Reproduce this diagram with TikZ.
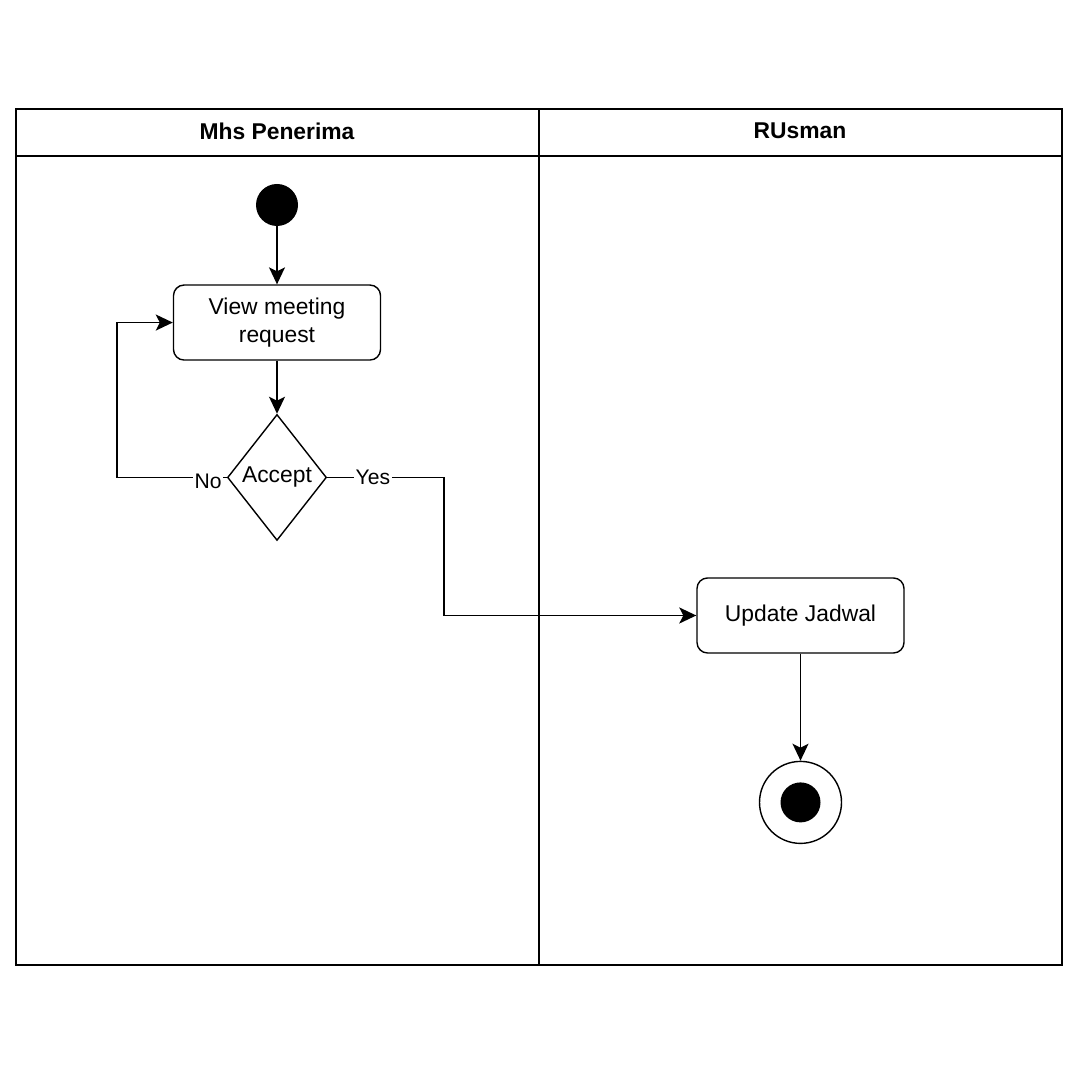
\documentclass[tikz,border=0pt]{standalone}
\usepackage{fontspec}
\setmainfont{Liberation Sans}
\usetikzlibrary{shapes.geometric,arrows.meta,positioning}

\begin{document}
\begin{tikzpicture}[
    lane/.style={draw, line width=1pt},
    action/.style={draw, rounded corners=6pt, line width=0.8pt, minimum width=4.14cm, minimum height=1.5cm, align=center, font=\fontsize{13}{16}\selectfont},
    decision/.style={draw, diamond, line width=0.8pt, inner sep=0pt, minimum width=1.98cm, minimum height=2.52cm, font=\fontsize{13}{16}\selectfont},
    initial/.style={circle, fill=black, minimum size=0.84cm, inner sep=0pt},
    final/.style={circle, draw, line width=0.8pt, minimum size=1.64cm, inner sep=0pt},
    arrow/.style={-{Stealth[length=3.4mm,width=3.2mm,inset=0.8mm]}, line width=1pt},
    lbl/.style={fill=white, inner sep=1pt, font=\fontsize{12}{14}\selectfont},
    node distance=1.1cm
]

\useasboundingbox (0,0) rectangle (21.6,21.6);

% Swimlanes
\draw[lane] (0.32,2.30) rectangle (21.24,19.42);
\draw[lane] (0.32,18.48) -- (21.24,18.48);
\draw[lane] (10.78,2.30) -- (10.78,19.42);
\node[font=\bfseries\fontsize{13}{16}\selectfont] (lane1) at (5.54,18.98) {Mhs Penerima};
\node[font=\bfseries\fontsize{13}{16}\selectfont] (lane2) at (16.0,18.98) {RUsman};

% Nodes
\node[initial] (start) at (5.54,17.5) {};
\node[action, below=1.16cm of start] (view) {View meeting\\request};
\node[decision, below=1.06cm of view] (accept) {\makebox[0pt]{Accept}};
\node[action] (update) at (16.01,9.29) {Update Jadwal};
\node[final, below=2.14cm of update] (stop) {};
\node[circle, fill=black, minimum size=0.8cm, inner sep=0pt] (stopdot) at (stop) {};

% Arrows
\draw[arrow] (start) -- (view);
\draw[arrow] (view) -- (accept);
\draw[arrow] (accept.west) -- node[lbl, pos=0.17, yshift=-2pt] {No} ++(-2.2,0) |- (view.west);
\draw[arrow] (accept.east) -- node[lbl, pos=0.39] {Yes} ++(2.34,0) |- (update.west);
\draw[arrow] (update) -- (stop);

\end{tikzpicture}
\end{document}
